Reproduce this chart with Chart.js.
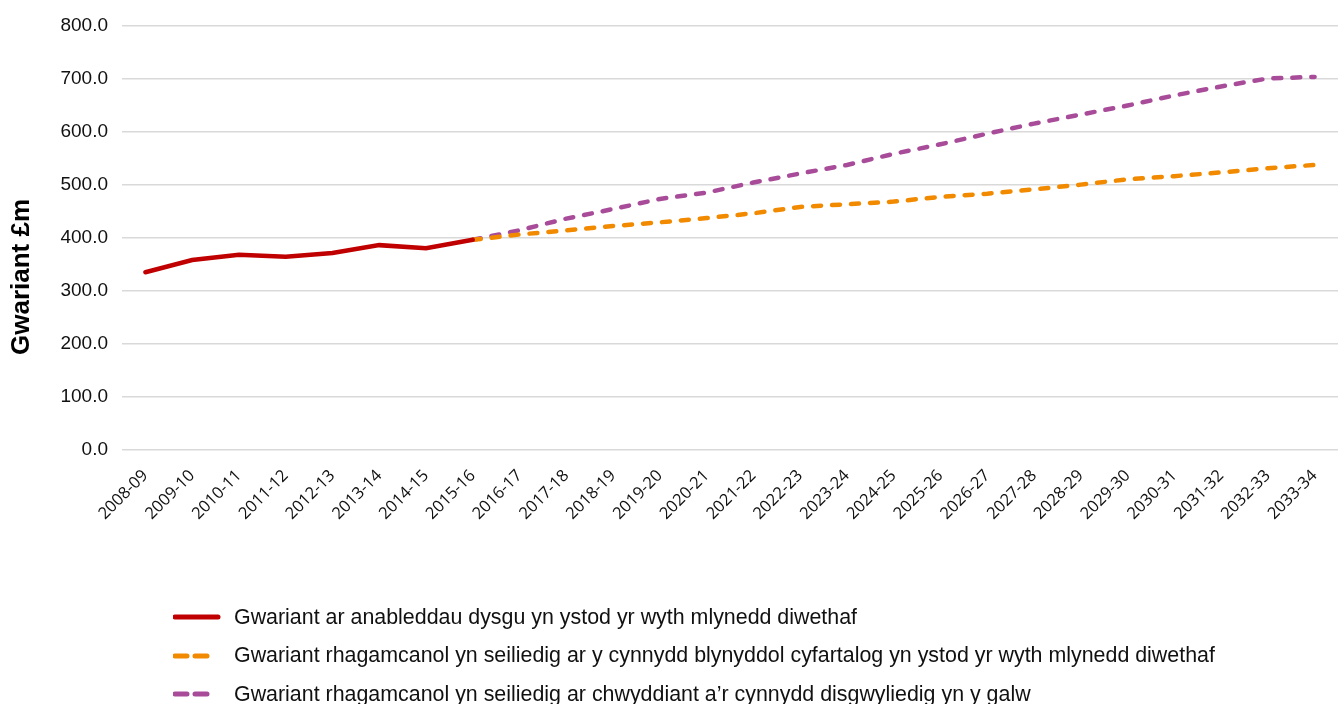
<!DOCTYPE html>
<html>
<head>
<meta charset="utf-8">
<script src="https://cdn.jsdelivr.net/npm/chart.js@4/dist/chart.umd.min.js"></script>
<style>
  html, body { margin: 0; padding: 0; background: #fff; }
  #wrap { position: relative; width: 1338px; height: 704px; }
  #legend { position: absolute; left: 173px; top: 598px; font-family: 'Liberation Sans', Arial, sans-serif; font-size: 21.4px; color: #111; white-space: nowrap; }
  .row { display: flex; align-items: center; height: 38.5px; }
  .row svg { width: 61px; height: 10px; flex: none; }
</style>
</head>
<body>
<div id="wrap">
  <canvas id="chart" width="1338" height="704"></canvas>
  <div id="legend"></div>
</div>
<script>
// --- Data ---
const years = ['2008-09', '2009-10', '2010-11', '2011-12', '2012-13', '2013-14', '2014-15', '2015-16',
    '2016-17', '2017-18', '2018-19', '2019-20', '2020-21', '2021-22', '2022-23', '2023-24', '2024-25',
    '2025-26', '2026-27', '2027-28', '2028-29', '2029-30', '2030-31', '2031-32', '2032-33', '2033-34'];

const actualSpend = [335, 358, 368, 364, 371, 386, 380, 396,
    null, null, null, null, null, null, null, null, null, null, null, null, null, null, null, null, null, null];

const projectedAverage = [null, null, null, null, null, null, null, 396,
    406, 414, 422, 429, 437, 446, 458, 463, 468, 477, 483, 491, 500, 510, 516, 523, 531, 537];

const projectedDemand = [null, null, null, null, null, null, null, 396,
    414, 436, 454, 473, 485, 504, 521, 537, 558, 576, 596, 615, 632, 649, 668, 685, 700, 703];

const seriesLabels = [
    'Gwariant ar anableddau dysgu yn ystod yr wyth mlynedd diwethaf',
    'Gwariant rhagamcanol yn seiliedig ar y cynnydd blynyddol cyfartalog yn ystod yr wyth mlynedd diwethaf',
    'Gwariant rhagamcanol yn seiliedig ar chwyddiant a\u2019r cynnydd disgwyliedig yn y galw'
];

const yTitle = 'Gwariant \u00a3m';

// y-axis title drawn at the reference's spot (not centred on the plot)
const yTitlePlugin = {
    id: 'yTitle',
    afterDraw(chart) {
        const ctx = chart.ctx;
        ctx.save();
        ctx.translate(22, 277);
        ctx.rotate(-Math.PI / 2);
        ctx.font = "bold 26px 'Liberation Sans', Arial, sans-serif";
        ctx.fillStyle = '#000';
        ctx.textAlign = 'center';
        ctx.textBaseline = 'middle';
        ctx.fillText(yTitle, 0, 0);
        ctx.restore();
    }
};

const dashed = [8, 11];

const chart = new Chart(document.getElementById('chart'), {
    type: 'line',
    data: {
        labels: years,
        datasets: [
            {
                label: seriesLabels[0],
                data: actualSpend,
                borderColor: '#C00000',
                borderWidth: 4.5,
                borderCapStyle: 'round',
                pointRadius: 0
            },
            {
                label: seriesLabels[1],
                data: projectedAverage,
                borderColor: '#F28A00',
                borderWidth: 4.5,
                borderDash: dashed,
                borderCapStyle: 'round',
                pointRadius: 0
            },
            {
                label: seriesLabels[2],
                data: projectedDemand,
                borderColor: '#A84C9A',
                borderWidth: 4.5,
                borderDash: dashed,
                borderCapStyle: 'round',
                pointRadius: 0
            }
        ]
    },
    options: {
        responsive: false,
        animation: false,
        layout: { padding: { top: 24, right: 0, bottom: 0, left: 0 } },
        plugins: {
            legend: { display: false },
            tooltip: { enabled: false }
        },
        scales: {
            x: {
                offset: true,
                grid: { display: false },
                border: { display: false },
                ticks: {
                    autoSkip: false,
                    maxRotation: 45,
                    minRotation: 45,
                    padding: 8,
                    color: '#111',
                    font: { family: "'Open Sans', sans-serif", size: 16.5 }
                },
                afterFit: (scale) => { scale.height = 254; }
            },
            y: {
                min: 0,
                max: 800,
                grid: { color: '#d9d9d9', lineWidth: 1.5, drawTicks: false },
                border: { display: false },
                ticks: {
                    stepSize: 100,
                    padding: 14,
                    color: '#111',
                    font: { family: "'Liberation Sans', Arial, sans-serif", size: 19 },
                    callback: (v) => v.toFixed(1)
                },
                afterFit: (scale) => { scale.width = 122; }
            }
        }
    },
    plugins: [yTitlePlugin]
});

// --- HTML legend, one item per row, left aligned ---
const legendEl = document.getElementById('legend');
chart.data.datasets.forEach((ds) => {
    const row = document.createElement('div');
    row.className = 'row';
    const dash = ds.borderDash ? ' stroke-dasharray="12 8"' : '';
    const x2 = ds.borderDash ? 38 : 45;
    row.innerHTML = `<svg viewBox="0 0 61 10"><line x1="2" y1="5" x2="${x2}" y2="5" stroke="${ds.borderColor}" stroke-width="5" stroke-linecap="round"${dash}/></svg><span>${ds.label}</span>`;
    legendEl.appendChild(row);
});
</script>
</body>
</html>
